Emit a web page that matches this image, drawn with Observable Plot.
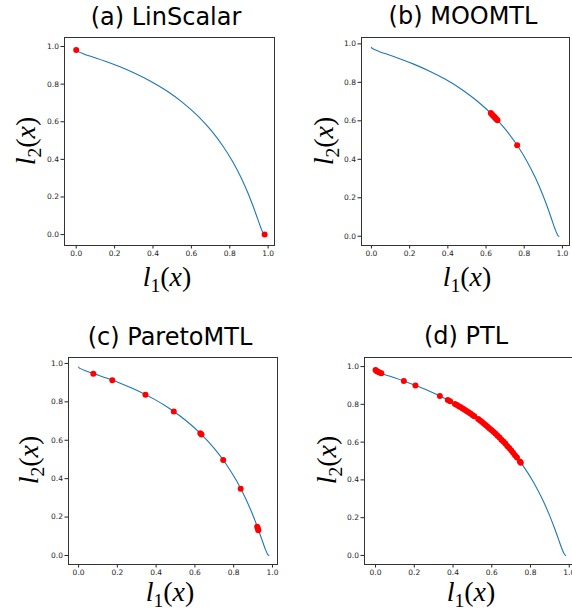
<!DOCTYPE html>
<html><head><meta charset="utf-8">
<script src="https://cdn.jsdelivr.net/npm/d3@7"></script>
<script src="https://cdn.jsdelivr.net/npm/@observablehq/plot@0.6"></script>
<style>
html,body{margin:0;padding:0;background:#fff;}
#wrap{position:relative;width:572px;height:611px;overflow:hidden;background:#fff;}
.panel{position:absolute;}
#overlay{position:absolute;left:0;top:0;pointer-events:none;}
</style></head><body><div id="wrap"></div>
<script>
// Pareto front
const frontL1 = [0, 0.0025, 0.0100, 0.0392, 0.0861, 0.1479, 0.2212, 0.3023, 0.3874, 0.4727, 0.5551, 0.6321, 0.7018, 0.7631, 0.8155, 0.8591, 0.8946, 0.9227, 0.9444, 0.9608, 0.9730, 0.9777, 0.9817];
const frontL2 = [0.9817, 0.9777, 0.9730, 0.9608, 0.9444, 0.9227, 0.8946, 0.8591, 0.8155, 0.7631, 0.7018, 0.6321, 0.5551, 0.4727, 0.3874, 0.3023, 0.2212, 0.1479, 0.0861, 0.0392, 0.0100, 0.0025, 0];

// solutions of each method
const linScalarL1 = [0, 0.9817];
const linScalarL2 = [0.9817, 0];
const mooMtlL1 = [0.625, 0.630, 0.635, 0.640, 0.645, 0.650, 0.655, 0.660, 0.763];
const mooMtlL2 = [0.641, 0.634, 0.629, 0.624, 0.619, 0.613, 0.608, 0.603, 0.473];
const paretoMtlL1 = [0.076, 0.174, 0.345, 0.491, 0.628, 0.634, 0.746, 0.836, 0.921, 0.925, 0.927];
const paretoMtlL2 = [0.947, 0.913, 0.837, 0.750, 0.637, 0.630, 0.497, 0.348, 0.150, 0.140, 0.132];
const ptlL1 = [0.000, 0.005, 0.012, 0.020, 0.030, 0.146, 0.206, 0.332, 0.373, 0.385, 0.410, 0.420, 0.430, 0.440, 0.450, 0.460, 0.470, 0.480, 0.490, 0.500, 0.510, 0.530, 0.540, 0.550, 0.560, 0.570, 0.580, 0.590, 0.600, 0.610, 0.620, 0.630, 0.640, 0.650, 0.660, 0.670, 0.680, 0.690, 0.700, 0.710, 0.720, 0.730, 0.745, 0.750];
const ptlL2 = [0.982, 0.976, 0.972, 0.968, 0.964, 0.923, 0.900, 0.844, 0.823, 0.817, 0.802, 0.796, 0.790, 0.784, 0.778, 0.771, 0.765, 0.758, 0.751, 0.744, 0.737, 0.722, 0.714, 0.707, 0.697, 0.689, 0.680, 0.671, 0.663, 0.653, 0.644, 0.634, 0.624, 0.613, 0.603, 0.592, 0.580, 0.569, 0.557, 0.544, 0.531, 0.519, 0.498, 0.491];

const tickValues = [0, 0.2, 0.4, 0.6, 0.8, 1.0];
const tickLabels = ["0.0", "0.2", "0.4", "0.6", "0.8", "1.0"];
const titles = ["(a) LinScalar", "(b) MOOMTL", "(c) ParetoMTL", "(d) PTL"];

const front = frontL1.map((v, i) => ({l1: v, l2: frontL2[i]}));
const zip = (a, b) => a.map((v, i) => ({l1: v, l2: b[i]}));
const sets = [zip(linScalarL1, linScalarL2), zip(mooMtlL1, mooMtlL2), zip(paretoMtlL1, paretoMtlL2), zip(ptlL1, ptlL2)];

// layout (pixels)
const panels = [
  {fx0: 64, fx1: 274, fy0: 37, fy1: 245, xdom: [-0.061, 1.033], ydom: [-0.058, 1.048], tcx: 166, tby: 25, xcx: 167, xby: 286, ycx: 35, ycy: 141},
  {fx0: 361, fx1: 569, fy0: 37, fy1: 245, xdom: [-0.052, 1.037], ydom: [-0.048, 1.033], tcx: 463, tby: 24, xcx: 467, xby: 286, ycx: 333, ycy: 141},
  {fx0: 68, fx1: 277, fy0: 357, fy1: 564, xdom: [-0.052, 1.026], ydom: [-0.047, 1.031], tcx: 170, tby: 345, xcx: 170, xby: 601, ycx: 38, ycy: 460},
  {fx0: 364, fx1: 573, fy0: 357, fy1: 564, xdom: [-0.057, 1.022], ydom: [-0.048, 1.048], tcx: 466, tby: 344, xcx: 471, xby: 601, ycx: 336, ycy: 460}
];

const wrap = document.getElementById("wrap");
const ML = 40, MR = 10, MT = 10, MB = 30;

panels.forEach((p, k) => {
  const W = (p.fx1 - p.fx0) + ML + MR;
  const H = (p.fy1 - p.fy0) + MT + MB;
  const chart = Plot.plot({
    width: W, height: H,
    marginLeft: ML, marginRight: MR, marginTop: MT, marginBottom: MB,
    style: {fontFamily: "DejaVu Sans", fontSize: "7.5px", color: "#222", background: "transparent", overflow: "visible"},
    x: {domain: p.xdom, ticks: tickValues, tickFormat: (d, i) => tickLabels[i], tickSize: 3.5, tickPadding: 2, label: null},
    y: {domain: p.ydom, ticks: tickValues, tickFormat: (d, i) => tickLabels[i], tickSize: 3.5, tickPadding: 2, label: null},
    marks: [
      Plot.line(front, {x: "l1", y: "l2", stroke: "#1f77b4", strokeWidth: 1.1, curve: "monotone-x"}),
      Plot.dot(sets[k], {x: "l1", y: "l2", r: 3, fill: "#ff0000", stroke: "none"}),
      Plot.frame({stroke: "#333", strokeWidth: 1})
    ]
  });
  chart.classList.add("panel");
  chart.style.left = (p.fx0 - ML) + "px";
  chart.style.top = (p.fy0 - MT) + "px";
  wrap.appendChild(chart);
});

// overlay text: titles and axis labels
const NS = "http://www.w3.org/2000/svg";
const ov = document.createElementNS(NS, "svg");
ov.setAttribute("id", "overlay");
ov.setAttribute("width", 572);
ov.setAttribute("height", 611);
wrap.appendChild(ov);

const FS = 28;
function mathLabel(n) {
  return `<tspan font-style="italic">l</tspan><tspan font-size="${FS * 0.7}" dy="6">${n}</tspan><tspan dy="-6">(</tspan><tspan font-style="italic">x</tspan><tspan>)</tspan>`;
}
panels.forEach((p, k) => {
  const t = document.createElementNS(NS, "text");
  t.setAttribute("x", p.tcx); t.setAttribute("y", p.tby);
  t.setAttribute("text-anchor", "middle");
  t.setAttribute("font-family", "DejaVu Sans");
  t.setAttribute("font-size", 24);
  t.setAttribute("fill", "#000");
  t.textContent = titles[k];
  ov.appendChild(t);

  const xl = document.createElementNS(NS, "text");
  xl.setAttribute("x", p.xcx); xl.setAttribute("y", p.xby);
  xl.setAttribute("text-anchor", "middle");
  xl.setAttribute("font-family", "Liberation Serif");
  xl.setAttribute("font-size", FS);
  xl.innerHTML = mathLabel("1");
  ov.appendChild(xl);

  const yl = document.createElementNS(NS, "text");
  yl.setAttribute("transform", `translate(${p.ycx},${p.ycy}) rotate(-90)`);
  yl.setAttribute("text-anchor", "middle");
  yl.setAttribute("font-family", "Liberation Serif");
  yl.setAttribute("font-size", FS);
  yl.innerHTML = mathLabel("2");
  ov.appendChild(yl);
});
</script></body></html>
